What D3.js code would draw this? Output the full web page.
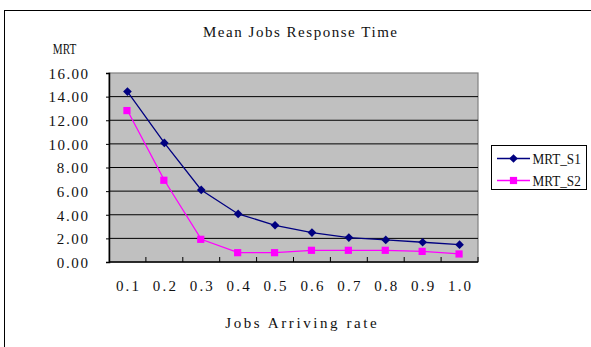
<!DOCTYPE html>
<html>
<head>
<meta charset="utf-8">
<script src="https://cdn.jsdelivr.net/npm/d3@7"></script>
<style>
  html, body { margin: 0; padding: 0; background: #fff; }
  svg { display: block; }
  text { font-family: "Liberation Serif", "DejaVu Serif", serif; fill: #111; }
</style>
</head>
<body>
<svg id="chart" width="591" height="347"></svg>
<script>
const categories = ["0.1", "0.2", "0.3", "0.4", "0.5", "0.6", "0.7", "0.8", "0.9", "1.0"];
const seriesNames = ["MRT_S1", "MRT_S2"];
const mrtS1 = [14.43, 10.08, 6.1, 4.07, 3.11, 2.49, 2.07, 1.87, 1.67, 1.47];
const mrtS2 = [12.82, 6.92, 1.92, 0.79, 0.79, 0.99, 0.99, 0.99, 0.9, 0.68];
const yTicks = [0, 2, 4, 6, 8, 10, 12, 14, 16];
const titleText = "Mean Jobs Response Time";
const yTitle = "MRT";
const xTitle = "Jobs Arriving rate";

const svg = d3.select("#chart");
const plot = { left: 109, right: 478, top: 73, bottom: 262 };

// monospace-like spacing for serif text (fixed advance per character)
function spaced(sel, str, charW) {
  sel.text(str);
  const target = str.length * charW - 1.5;
  const natural = sel.node().getComputedTextLength();
  sel.attr("textLength", target)
     .attr("lengthAdjust", natural > target ? "spacingAndGlyphs" : "spacing");
  return sel;
}

// outer frame
svg.append("rect")
  .attr("x", 4.5).attr("y", 10.5).attr("width", 700).attr("height", 500)
  .attr("fill", "#fff").attr("stroke", "#000").attr("stroke-width", 1);

const x = d3.scaleBand().domain(categories).range([plot.left, plot.right]).padding(0);
const y = d3.scaleLinear().domain([0, 16]).range([plot.bottom, plot.top]);

// plot background
svg.append("rect")
  .attr("x", plot.left).attr("y", plot.top)
  .attr("width", plot.right - plot.left).attr("height", plot.bottom - plot.top)
  .attr("fill", "#c0c0c0").attr("stroke", "#808080").attr("stroke-width", 1.2);

// gridlines
svg.append("g").selectAll("line")
  .data(yTicks.filter(d => d > 0 && d < 16))
  .join("line")
  .attr("x1", plot.left).attr("x2", plot.right)
  .attr("y1", d => y(d)).attr("y2", d => y(d))
  .attr("stroke", "#000").attr("stroke-width", 1);

// y axis
const yAxis = svg.append("g")
  .attr("transform", `translate(${plot.left},0)`)
  .call(d3.axisLeft(y).tickValues(yTicks).tickFormat(d3.format(".2f")).tickSize(3));
yAxis.select(".domain").attr("stroke", "#000").attr("stroke-width", 1.5);
yAxis.selectAll(".tick line").attr("stroke", "#000");
yAxis.selectAll(".tick text").each(function(d) {
  const t = d3.select(this);
  t.attr("font-size", "15px")
   .attr("font-family", "Liberation Serif, serif")
   .attr("fill", "#111")
   .attr("x", -21)
   .attr("dy", "0.35em");
  spaced(t, d3.format(".2f")(d), 8.2);
});

// x axis (ticks at category boundaries, pointing up into plot)
const boundaries = categories.map(c => x(c)).concat([plot.right]);
svg.append("line")
  .attr("x1", plot.left).attr("x2", plot.right)
  .attr("y1", plot.bottom).attr("y2", plot.bottom)
  .attr("stroke", "#000").attr("stroke-width", 1.5);
svg.append("g").selectAll("line")
  .data(boundaries.slice(1))
  .join("line")
  .attr("x1", d => d).attr("x2", d => d)
  .attr("y1", plot.bottom - 5).attr("y2", plot.bottom)
  .attr("stroke", "#000").attr("stroke-width", 1);

svg.append("g").selectAll("text")
  .data(categories)
  .join("text")
  .attr("x", d => x(d) + x.bandwidth() / 2)
  .attr("y", 291)
  .attr("text-anchor", "middle")
  .attr("font-size", "15px")
  .each(function(d) { spaced(d3.select(this), d, 8.2); });

// titles
spaced(svg.append("text").attr("x", 300).attr("y", 37).attr("text-anchor", "middle")
  .attr("font-size", "15px"), titleText, 8.5);
spaced(svg.append("text").attr("x", 64.5).attr("y", 54).attr("text-anchor", "middle")
  .attr("font-size", "15px"), yTitle, 8.3);
spaced(svg.append("text").attr("x", 301).attr("y", 328).attr("text-anchor", "middle")
  .attr("font-size", "15px"), xTitle, 8.5);

// series
const cx = c => x(c) + x.bandwidth() / 2;
const line = d3.line().x((d, i) => cx(categories[i])).y(d => y(d));
const colors = ["#000080", "#ff00ff"];
const data = [mrtS1, mrtS2];

data.forEach((vals, si) => {
  svg.append("path").datum(vals)
    .attr("d", line).attr("fill", "none")
    .attr("stroke", colors[si]).attr("stroke-width", 1.3);
});

const diamond = d3.symbol().type(d3.symbolDiamond2).size(48);
const square = d3.symbol().type(d3.symbolSquare).size(52);

svg.append("g").selectAll("path")
  .data(mrtS1).join("path")
  .attr("transform", (d, i) => `translate(${cx(categories[i])},${y(d)})`)
  .attr("d", diamond).attr("fill", colors[0]);
svg.append("g").selectAll("path")
  .data(mrtS2).join("path")
  .attr("transform", (d, i) => `translate(${cx(categories[i]) - 0.5},${y(d)})`)
  .attr("d", square).attr("fill", colors[1]);

// legend
const lg = svg.append("g");
lg.append("rect").attr("x", 491.5).attr("y", 145.5).attr("width", 95).attr("height", 44)
  .attr("fill", "#fff").attr("stroke", "#000").attr("stroke-width", 1);
const rows = [158.5, 180.5];
seriesNames.forEach((name, i) => {
  lg.append("line").attr("x1", 497).attr("x2", 530).attr("y1", rows[i]).attr("y2", rows[i])
    .attr("stroke", colors[i]).attr("stroke-width", 1.5);
  lg.append("path").attr("transform", `translate(513.5,${rows[i]})`)
    .attr("d", i === 0 ? diamond : square).attr("fill", colors[i]);
  spaced(lg.append("text").attr("x", 532.5).attr("y", rows[i] + 5)
    .attr("font-size", "15px"), name, 8.3);
});
</script>
</body>
</html>
